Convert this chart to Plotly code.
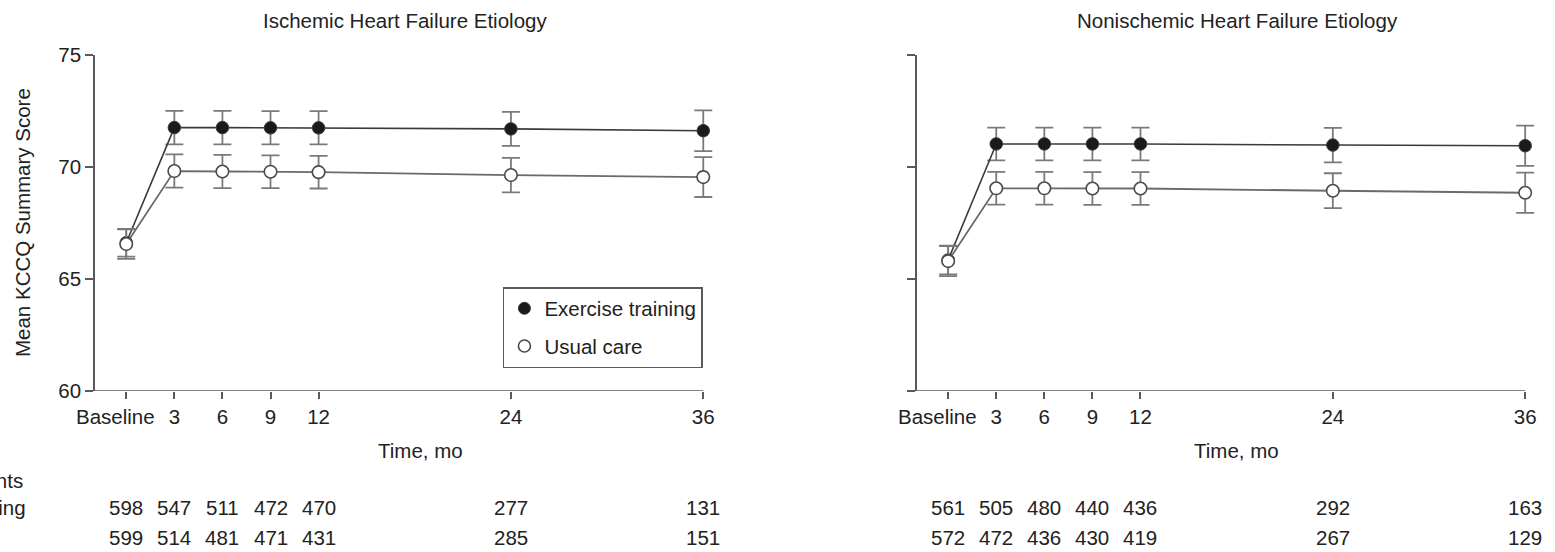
import plotly.graph_objects as go

# ---------------- data ----------------
months = [0, 3, 6, 9, 12, 24, 36]
tick_labels = ["", "3", "6", "9", "12", "24", "36"]
baseline_label = "Baseline"

isch_ex = [66.62, 71.76, 71.76, 71.75, 71.75, 71.70, 71.62]
isch_ex_err = [0.62, 0.75, 0.75, 0.74, 0.74, 0.76, 0.91]
isch_uc = [66.56, 69.82, 69.80, 69.79, 69.77, 69.64, 69.55]
isch_uc_err = [0.66, 0.74, 0.74, 0.73, 0.73, 0.77, 0.89]

nonisch_ex = [65.85, 71.03, 71.03, 71.03, 71.03, 70.98, 70.95]
nonisch_ex_err = [0.64, 0.73, 0.73, 0.73, 0.73, 0.77, 0.90]
nonisch_uc = [65.80, 69.05, 69.05, 69.04, 69.04, 68.94, 68.85]
nonisch_uc_err = [0.67, 0.73, 0.73, 0.73, 0.73, 0.78, 0.90]

isch_n_ex = [598, 547, 511, 472, 470, 277, 131]
isch_n_uc = [599, 514, 481, 471, 431, 285, 151]
nonisch_n_ex = [561, 505, 480, 440, 436, 292, 163]
nonisch_n_uc = [572, 472, 436, 430, 419, 267, 129]

panel_titles = ["Ischemic Heart Failure Etiology", "Nonischemic Heart Failure Etiology"]
series_names = ["Exercise training", "Usual care"]
row_labels = ["No. of patients", "Exercise training", "Usual care"]

# ---------------- layout constants ----------------
W, H = 1555, 552
PXM = 16.03                      # pixels per month in the reference
XMIN, XMAX = -1.95, 36.8          # axis range (extra room so end error bars are not clipped)
LEFT_AX_PX, RIGHT_AX_PX = 95, 917
PANEL_W = (XMAX - XMIN) * PXM
ML = LEFT_AX_PX
MR = W - (RIGHT_AX_PX + PANEL_W)
MT, MB = 55, 161
PW, PH = W - ML - MR, H - MT - MB
FONT = "Liberation Sans, Arial, Helvetica, sans-serif"
FS = 20.5
TXT = "#222222"
AX = "#5a5a5a"


def px_x(px):
    return (px - ML) / PW


def px_y(py):
    return (H - MB - py) / PH


fig = go.Figure()

panels = [
    ("x", "y", isch_ex, isch_ex_err, isch_uc, isch_uc_err),
    ("x2", "y2", nonisch_ex, nonisch_ex_err, nonisch_uc, nonisch_uc_err),
]
for xa, ya, ex, exe, uc, uce in panels:
    fig.add_trace(go.Scatter(
        x=months, y=ex, xaxis=xa, yaxis=ya, mode="lines+markers",
        line=dict(color="#3a3a3a", width=1.6),
        marker=dict(size=12.5, color="#1a1a1a", line=dict(color="#3a3a3a", width=1)),
        error_y=dict(type="data", array=exe, visible=True, color="#7a7a7a",
                     thickness=1.8, width=9),
        showlegend=False, cliponaxis=False, name=series_names[0]))
    fig.add_trace(go.Scatter(
        x=months, y=uc, xaxis=xa, yaxis=ya, mode="lines+markers",
        line=dict(color="#6a6a6a", width=1.8),
        marker=dict(size=12.5, color="white", line=dict(color="#4a4a4a", width=1.6)),
        error_y=dict(type="data", array=uce, visible=True, color="#7a7a7a",
                     thickness=1.8, width=9),
        showlegend=False, cliponaxis=False, name=series_names[1]))

# legend-only entries (marker only, like reference)
fig.add_trace(go.Scatter(x=[None], y=[None], mode="markers", name=series_names[0],
                         marker=dict(size=12, color="#1a1a1a", line=dict(color="#3a3a3a", width=1)),
                         legendgroup="a"))
fig.add_trace(go.Scatter(x=[None], y=[None], mode="markers", name=series_names[1],
                         marker=dict(size=12, color="white", line=dict(color="#4a4a4a", width=1.6)),
                         legendgroup="b"))

d1 = [0, PANEL_W / PW]
d2 = [px_x(RIGHT_AX_PX), 1]

common_x = dict(range=[XMIN, XMAX], tickvals=months, ticktext=tick_labels, showline=False,
                ticks="outside", ticklen=7, tickwidth=1.5,
                tickcolor=AX, showgrid=False, zeroline=False,
                tickfont=dict(family=FONT, size=FS, color=TXT))
common_y = dict(range=[60, 75], tickvals=[60, 65, 70, 75], showline=True, linecolor=AX,
                linewidth=1.5, ticks="outside", ticklen=8, tickwidth=1.5, tickcolor=AX,
                showgrid=False, zeroline=False,
                tickfont=dict(family=FONT, size=FS, color=TXT))

# x-axis baselines ending at the last time point, as in the reference
shapes = []
for xa, ya in [("x", "y"), ("x2", "y2")]:
    shapes.append(dict(type="line", xref=xa, yref=ya, x0=XMIN, x1=months[-1],
                       y0=60, y1=60, line=dict(color=AX, width=1.5), layer="above"))

fig.update_layout(
    width=W, height=H,
    margin=dict(l=ML, r=MR, t=MT, b=MB),
    paper_bgcolor="white", plot_bgcolor="white",
    font=dict(family=FONT, size=FS, color=TXT),
    xaxis=dict(domain=d1, anchor="y", **common_x),
    yaxis=dict(domain=[0, 1], anchor="x", **common_y),
    xaxis2=dict(domain=d2, anchor="y2", **common_x),
    yaxis2=dict(domain=[0, 1], anchor="x2", showticklabels=False, **common_y),
    legend=dict(x=px_x(703), y=px_y(287), xanchor="right", yanchor="top",
                bordercolor=AX, borderwidth=1.5, bgcolor="white",
                font=dict(family=FONT, size=FS, color=TXT),
                tracegroupgap=8, itemwidth=30),
    showlegend=True,
    shapes=shapes,
)

ann = []
# panel titles
ann.append(dict(text=panel_titles[0], x=px_x(405), y=px_y(21), xref="paper", yref="paper",
                showarrow=False, xanchor="center", yanchor="middle"))
ann.append(dict(text=panel_titles[1], x=px_x(1238), y=px_y(21), xref="paper", yref="paper",
                showarrow=False, xanchor="center", yanchor="middle"))
# axis titles
ann.append(dict(text="Time, mo", x=px_x(421), y=px_y(450), xref="paper", yref="paper",
                showarrow=False, xanchor="center", yanchor="middle"))
ann.append(dict(text="Time, mo", x=px_x(1237), y=px_y(450), xref="paper", yref="paper",
                showarrow=False, xanchor="center", yanchor="middle"))
ann.append(dict(text="Mean KCCQ Summary Score", x=px_x(22), y=px_y(223), xref="paper",
                yref="paper", showarrow=False, textangle=-90, xanchor="center",
                yanchor="middle"))
# baseline labels (offset left of tick like reference)
for xa in ["x", "x2"]:
    ann.append(dict(text=baseline_label, x=months[0], xref=xa, y=px_y(416), yref="paper",
                    xshift=-10.5, showarrow=False, xanchor="center", yanchor="middle"))
# numbers at risk
for xa, nex, nuc in [("x", isch_n_ex, isch_n_uc), ("x2", nonisch_n_ex, nonisch_n_uc)]:
    for m, a, b in zip(months, nex, nuc):
        ann.append(dict(text=str(a), x=m, xref=xa, y=px_y(508), yref="paper",
                        showarrow=False, xanchor="center", yanchor="middle"))
        ann.append(dict(text=str(b), x=m, xref=xa, y=px_y(537), yref="paper",
                        showarrow=False, xanchor="center", yanchor="middle"))
# row labels (cut off at the left edge, as in the reference)
ann.append(dict(text=row_labels[0], x=px_x(25), y=px_y(480), xref="paper", yref="paper",
                showarrow=False, xanchor="right", yanchor="middle"))
ann.append(dict(text=row_labels[1], x=px_x(28), y=px_y(508), xref="paper", yref="paper",
                showarrow=False, xanchor="right", yanchor="middle"))
ann.append(dict(text=row_labels[2], x=px_x(-23), y=px_y(537), xref="paper", yref="paper",
                showarrow=False, xanchor="right", yanchor="middle"))

fig.update_layout(annotations=ann)
fig.write_html("out.html", config={"displayModeBar": False},
               post_script="document.body.style.margin='0';document.body.style.overflow='hidden';")
